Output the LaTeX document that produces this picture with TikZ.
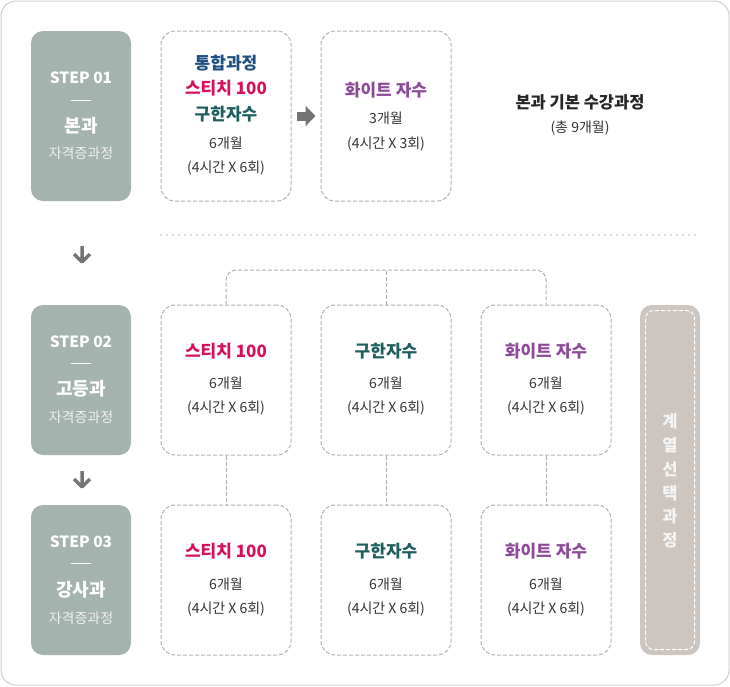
\documentclass[tikz,border=0pt]{standalone}
\usepackage{fontspec}
\setmainfont{Noto Sans CJK KR}
\usetikzlibrary{arrows.meta}
\definecolor{stepg}{HTML}{A5B3AE}
\definecolor{dashg}{HTML}{B0B0B0}
\definecolor{treeg}{HTML}{A3B4B1}
\definecolor{dotg}{HTML}{BBBBBB}
\definecolor{frameg}{HTML}{CFCFCF}
\definecolor{selg}{HTML}{CCC5C0}
\definecolor{arrg}{HTML}{747474}
\definecolor{txtg}{HTML}{333333}
\definecolor{cblue}{HTML}{1F4E82}
\definecolor{cpink}{HTML}{D80F5A}
\definecolor{cteal}{HTML}{1F5D5E}
\definecolor{cpurp}{HTML}{8E4A9A}
\begin{document}
\begin{tikzpicture}[x=1pt, y=-1pt, line join=round,
	stepbox/.style={fill=stepg, rounded corners=12pt, minimum width=100pt, minimum height=150pt, inner sep=0pt},
	crsbox/.style={draw=dashg, line width=1pt, dash pattern=on 4pt off 2pt, rounded corners=14pt, minimum width=130pt, minimum height=150pt, inner sep=0pt},
	steptxt/.style={font=\fontsize{15.5}{16}\selectfont\bfseries, text=white},
	stepname/.style={font=\fontsize{18}{20}\selectfont\bfseries, text=white},
	stepsub/.style={font=\fontsize{14}{16}\selectfont, text=white!94!black},
	ttl/.style={font=\fontsize{17}{18}\selectfont\bfseries},
	sub/.style={font=\fontsize{14}{16}\selectfont, text=txtg},
	tree/.style={draw=treeg, line width=1pt, dash pattern=on 4pt off 2pt},
	darr/.style={draw=arrg, line width=3.5pt},
	rarr/.style={draw=arrg, line width=9pt, -{Triangle[length=10pt,width=20pt]}, shorten <=5pt, shorten >=5pt}]
	\useasboundingbox (0,0) rectangle (730,686);
	\draw[frameg, line width=1pt, rounded corners=15pt] (1,1) rectangle (729,685);
	% STEP 01
	\node[stepbox, minimum height=170pt] (s1) at (81,116) {};
	\node[steptxt] (s1a) at (81,78) {STEP 01};
	\draw[white, line width=1pt] (71,100) -- (91,100);
	\node[stepname] (s1b) at (81,125.5) {본과};
	\node[stepsub] (s1c) at (81,153) {자격증과정};
	% STEP 02
	\node[stepbox] (s2) at (81,380) {};
	\node[steptxt] (s2a) at (81,342) {STEP 02};
	\draw[white, line width=1pt] (71,363.5) -- (91,363.5);
	\node[stepname] (s2b) at (81,389) {고등과};
	\node[stepsub] (s2c) at (81,417) {자격증과정};
	% STEP 03
	\node[stepbox] (s3) at (81,580) {};
	\node[steptxt] (s3a) at (81,542) {STEP 03};
	\draw[white, line width=1pt] (71,563.5) -- (91,563.5);
	\node[stepname] (s3b) at (81,590) {강사과};
	\node[stepsub] (s3c) at (81,618) {자격증과정};
	% down arrows
	\coordinate (d1) at (82,246);
	\coordinate (d2) at (82,471);
	\draw[darr] (d1) -- ++(0,16) ++(-8,-8) -- ++(8,8) -- ++(8,-8);
	\draw[darr] (d2) -- ++(0,16) ++(-8,-8) -- ++(8,8) -- ++(8,-8);
	% row 1
	\node[crsbox, minimum height=170pt] (b11) at (226,116) {};
	\node[crsbox, minimum height=170pt] (b12) at (386,116) {};
	\node[ttl, text=cblue] (b11a) at (226,63.5) {통합과정};
	\node[ttl, text=cpink] (b11b) at (226,88.5) {스티치 100};
	\node[ttl, text=cteal] (b11c) at (226,114) {구한자수};
	\node[sub] (b11d) at (226,143) {6개월};
	\node[sub] (b11e) at (226,168) {(4시간 X 6회)};
	\node[ttl, text=cpurp] (b12a) at (386,90) {화이트 자수};
	\node[sub] (b12b) at (386,118) {3개월};
	\node[sub] (b12c) at (386,144) {(4시간 X 3회)};
	\draw[rarr] (b11) -- (b12);
	\node[font=\fontsize{16.5}{18}\selectfont\bfseries, text=black!85] (sum) at (580,102.5) {본과 기본 수강과정};
	\node[font=\fontsize{14}{16}\selectfont, text=txtg] (sumb) at (580,128) {(총 9개월)};
	\draw[dotg, line width=1.6pt, dash pattern=on 0pt off 6pt, line cap=round] (161,235) -- (700,235);
	% row 2
	\node[crsbox] (b21) at (226,380) {};
	\node[crsbox] (b22) at (386,380) {};
	\node[crsbox] (b23) at (546,380) {};
	\node[ttl, text=cpink] (b21a) at (226,351) {스티치 100};
	\node[sub] (b21b) at (226,383.5) {6개월};
	\node[sub] (b21c) at (226,408.5) {(4시간 X 6회)};
	\node[ttl, text=cteal] (b22a) at (386,351) {구한자수};
	\node[sub] (b22b) at (386,383.5) {6개월};
	\node[sub] (b22c) at (386,408.5) {(4시간 X 6회)};
	\node[ttl, text=cpurp] (b23a) at (546,351) {화이트 자수};
	\node[sub] (b23b) at (546,383.5) {6개월};
	\node[sub] (b23c) at (546,408.5) {(4시간 X 6회)};
	% row 3
	\node[crsbox] (b31) at (226,580) {};
	\node[crsbox] (b32) at (386,580) {};
	\node[crsbox] (b33) at (546,580) {};
	\node[ttl, text=cpink] (b31a) at (226,551) {스티치 100};
	\node[sub] (b31b) at (226,584) {6개월};
	\node[sub] (b31c) at (226,609) {(4시간 X 6회)};
	\node[ttl, text=cteal] (b32a) at (386,551) {구한자수};
	\node[sub] (b32b) at (386,584) {6개월};
	\node[sub] (b32c) at (386,609) {(4시간 X 6회)};
	\node[ttl, text=cpurp] (b33a) at (546,551) {화이트 자수};
	\node[sub] (b33b) at (546,584) {6개월};
	\node[sub] (b33c) at (546,609) {(4시간 X 6회)};
	% tree
	\draw[tree, rounded corners=10pt] (b21.north) -- (b21.north |- 0,270) -- (b23.north |- 0,270) -- (b23.north);
	\draw[tree] (b22.north) -- (b22.north |- 0,270);
	\draw[tree] (b21) -- (b31);
	\draw[tree] (b22) -- (b32);
	\draw[tree] (b23) -- (b33);
	% 계열선택과정
	\node[fill=selg, rounded corners=12pt, minimum width=60pt, minimum height=350pt, inner sep=0pt] (sel) at (670,480) {};
	\draw[white, line width=1pt, dash pattern=on 4pt off 2pt, rounded corners=8pt] (645.5,310.5) rectangle (694.5,649.5);
	\node[font=\fontsize{16.5}{23.7}\selectfont\bfseries, text=white!96!black, align=center] (selt) at (670,481) {계\\열\\선\\택\\과\\정};
\end{tikzpicture}
\end{document}
